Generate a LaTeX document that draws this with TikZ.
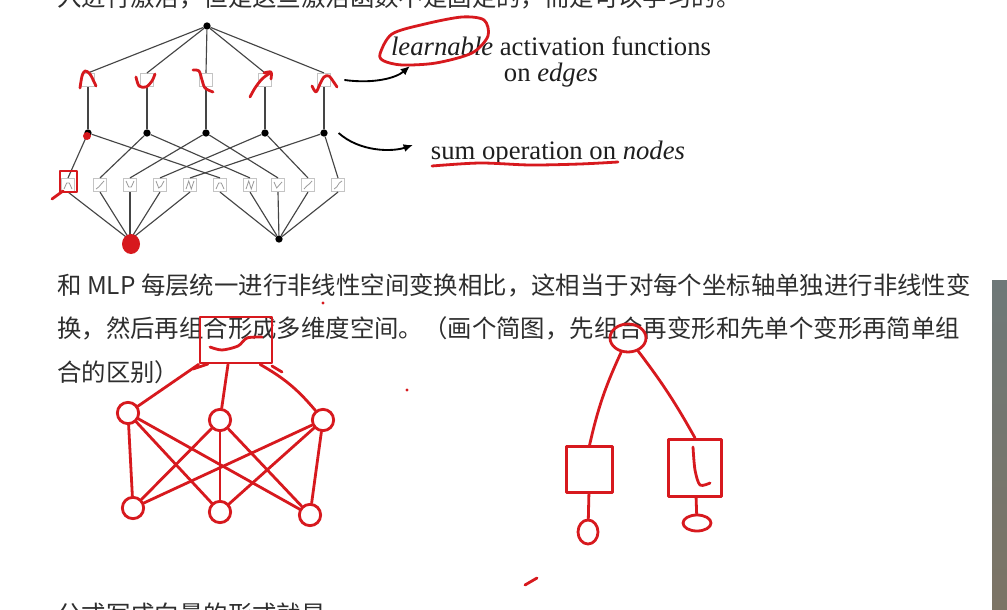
\documentclass[tikz,border=0pt]{standalone}
\usepackage{fontspec}
\usepackage{tikz}
\usepackage{xcolor}
\usetikzlibrary{arrows.meta,positioning,shapes.geometric}
\setmainfont{Liberation Serif}
\newfontfamily\cjk{Noto Sans CJK SC}
\definecolor{Ink}{HTML}{454545}
\definecolor{BoxGray}{HTML}{C4C4C4}
\definecolor{Glyph}{HTML}{9A9A9A}
\definecolor{Pen}{HTML}{D7191E}
\definecolor{TextGray}{HTML}{2E2E2E}
\definecolor{TextBlack}{HTML}{1E1E1E}
\definecolor{BarTop}{HTML}{6E7878}
\definecolor{BarBot}{HTML}{7C7465}

\begin{document}
\begin{tikzpicture}[
  x=0.75pt,y=-0.75pt,
  kdot/.style={circle,fill=black,inner sep=0pt,minimum size=5.5pt},
  ksq/.style={draw=BoxGray,fill=white,line width=0.6pt,inner sep=0pt,minimum size=10pt},
  kline/.style={draw=Ink,line width=0.85pt},
  kglyph/.style={draw=Glyph,line width=0.6pt},
  karrow/.style={-{Latex[length=7pt,width=6pt]},line width=1.4pt,draw=black},
  pen/.style={draw=Pen,line width=2.1pt,line cap=round,line join=round},
  pcirc/.style={circle,pen,inner sep=0pt,minimum size=16pt},
  pbox/.style={rectangle,pen,inner sep=0pt},
  cnline/.style={anchor=west,inner sep=0pt,text=TextGray,font=\cjk\fontsize{18.3}{22}\selectfont},
  enlabel/.style={inner sep=0pt,text=TextBlack,font=\fontsize{20}{24}\selectfont}
]
\fill[white] (0,0) rectangle (1007,610);
\useasboundingbox (0,0) rectangle (1007,610);
\clip (0,0) rectangle (1007,610);

% page text
\node[cnline] (row0) at (57,-3) {入进行激活，但是这些激活函数不是固定的，而是可以学习的。};
\node[cnline] (row1) at (57,285) {和 MLP 每层统一进行非线性空间变换相比，这相当于对每个坐标轴单独进行非线性变};
\node[cnline] (row2) at (57,328) {换，然后再组合形成多维度空间。（画个简图，先组合再变形和先单个变形再简单组};
\node[cnline] (row3) at (57,372) {合的区别）};
\node[cnline] (row4) at (57,614) {公式写成向量的形式就是};
\shade[top color=BarTop,bottom color=BarBot] (992,280) rectangle (1007,610);

% KAN figure
\node[kdot] (top) at (207,26) {};
\foreach \x [count=\i] in {88,147,206,265,324} {
  \node[ksq] (s\i) at (\x,80) {};
  \node[kdot] (m\i) at (\x,133) {};
}
\foreach \x [count=\i] in {68,100,130,160,190,220,250,278,308,338}
  \node[ksq] (b\i) at (\x,185) {};
\node[kdot] (in1) at (130,240) {};
\node[kdot] (in2) at (279,239) {};
\foreach \i in {1,...,5} {
  \pgfmathtruncatemacro\j{\i+5}
  \draw[kline] (top) -- (s\i.north);
  \draw[kline] (s\i) -- (m\i);
  \draw[kline] (m\i) -- (b\i.north);
  \draw[kline] (m\i) -- (b\j.north);
  \draw[kline] (b\i.south) -- (in1);
  \draw[kline] (b\j.south) -- (in2);
}
\foreach \i/\a/\b/\c/\d in {1/4/-2/-2/4,2/4/2/-1/-4,3/-4/2/2/-4,4/-4/3/1/-4,5/4/-4/4/-4,
    6/4/-2/-2/4,7/4/-4/4/-4,8/-3/3/0/-3,9/4/1/-1/-4,10/4/2/-2/-4}
  \draw[kglyph] ([shift={(-4,\a)}]b\i.center) -- ([shift={(-1.3,\b)}]b\i.center)
    -- ([shift={(1.3,\c)}]b\i.center) -- ([shift={(4,\d)}]b\i.center);

\node[enlabel] (lbl1) at (551,46) {\textit{learnable} activation functions};
\node[enlabel] (lbl2) at (551,75) {on \textit{edges}};
\node[enlabel] (lbl3) at (558,153) {sum operation on \textit{nodes}};
\coordinate (tip1) at (410,66);
\coordinate (tip2) at (413,145);
\draw[karrow] ([xshift=10pt]s5.east) .. controls (374,84) and (396,78) .. (tip1);
\draw[karrow] ([xshift=8pt]m5.east) .. controls (360,152) and (392,152) .. (tip2);

% red pen marks on the figure
\draw[pen] plot[smooth] coordinates {(80,88) (82,76) (85,71) (90,74) (96,86)};
\draw[pen] plot[smooth] coordinates {(136,77) (139,86) (146,87) (152,81) (155,74)};
\draw[pen] plot[smooth] coordinates {(193,70) (199,71) (202,80) (205,88) (213,92)};
\draw[pen] plot[smooth] coordinates {(250,97) (255,88) (262,79) (270,73)};
\draw[pen] plot[smooth] coordinates {(264,73) (271,72) (271,79)};
\draw[pen] plot[smooth] coordinates {(312,86) (316,92) (320,84) (324,77) (329,76) (335,84) (337,87)};
\draw[pen] (60,171) rectangle (77,192);
\draw[pen] (52,199) -- (63,191);
\fill[Pen] (87,136) circle (4);
\fill[Pen] (131,244) ellipse (9 and 10);
\draw[pen] plot[smooth cycle] coordinates {(380,54) (392,34) (425,24) (462,17) (484,20) (488,36) (472,53) (436,63) (402,65) (384,61)};
\draw[pen] plot[smooth] coordinates {(432,166) (480,163) (530,165) (580,164) (618,162)};

% left sketch
\node[pbox,minimum width=54pt,minimum height=34.5pt] (hbox) at (236,340) {};
\draw[pen] plot[smooth] coordinates {(210,347) (222,350) (238,346) (247,338) (262,337)};
\draw[pen] (193,369) -- (208,364);
\draw[pen] (272,366) -- (282,372);
\node[pcirc] (h1) at (128,413) {};
\node[pcirc] (h2) at (220,420) {};
\node[pcirc] (h3) at (323,420) {};
\node[pcirc] (g1) at (133,508) {};
\node[pcirc] (g2) at (220,512) {};
\node[pcirc] (g3) at (310,515) {};
\draw[pen] (hbox.south west) -- (h1);
\draw[pen] ([xshift=-6pt]hbox.south) -- (h2);
\draw[pen] ([xshift=-10pt]hbox.south east) to[bend left=10] (h3);
\foreach \i in {1,2,3}
  \foreach \j in {1,2,3}
    \draw[pen] (h\i) -- (g\j);
\fill[Pen] (323,303) circle (1.6);
\fill[Pen] (407,390) circle (1.6);

% right sketch
\node[ellipse,pen,inner sep=0pt,minimum width=27pt,minimum height=21pt] (r0) at (628,338) {};
\node[pbox,minimum size=34pt] (rl) at (589.5,469.5) {};
\node[pbox,minimum width=40pt,minimum height=43pt] (rr) at (695,468) {};
\draw[pen] plot[smooth] coordinates {(693,447) (695,470) (700,485) (710,483)};
\node[ellipse,pen,inner sep=0pt,minimum width=15pt,minimum height=18pt] (tl) at (588,532) {};
\node[ellipse,pen,inner sep=0pt,minimum width=21pt,minimum height=12pt] (tr) at (697,523) {};
\draw[pen] (r0) to[bend right=6] (rl.north);
\draw[pen] (r0) to[bend left=4] (rr.north);
\draw[pen] (rl) -- (tl);
\draw[pen] (rr) -- (tr);
\draw[pen] (525,585) -- (537,578);
\end{tikzpicture}
\end{document}
